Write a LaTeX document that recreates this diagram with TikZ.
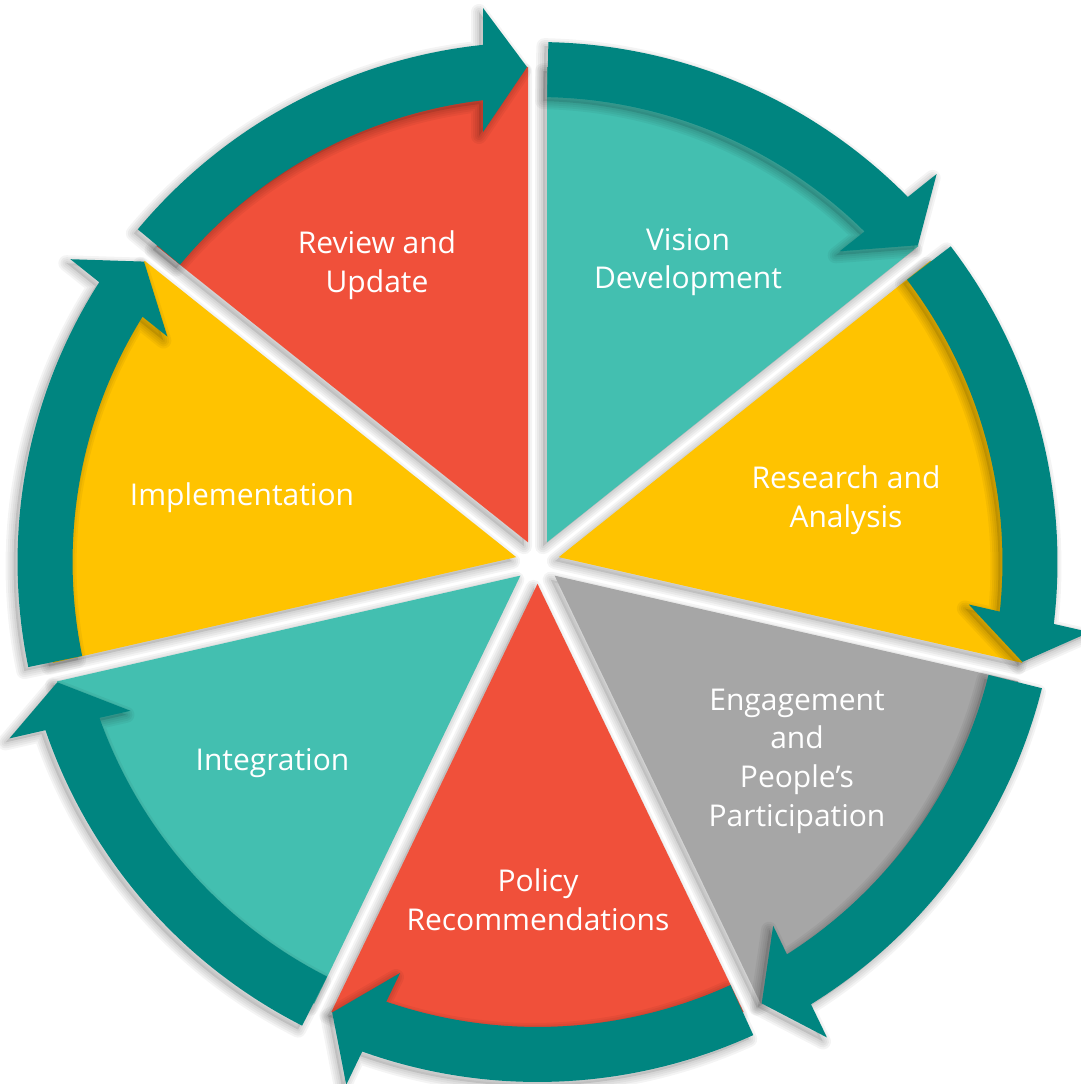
\documentclass[tikz,border=0pt]{standalone}
\usepackage{fontspec}
\setmainfont{Open Sans}
\definecolor{arrowc}{RGB}{0,133,128}
\definecolor{tealc}{RGB}{67,191,176}
\definecolor{yellowc}{RGB}{255,195,0}
\definecolor{redc}{RGB}{240,80,58}
\definecolor{grayc}{RGB}{166,166,166}
\tikzset{
  lbl/.style={text=white, align=center, inner sep=0pt, font=\fontsize{30}{38.7}\selectfont},
  bandarrow/.style={fill=arrowc},
  shadowfill/.style={fill=black, fill opacity=0.10},
  shadowlayer/.style={draw=black, draw opacity=0.045, line width=#1, line join=round},
}
\newcommand{\slicepath}{(25.714:21.9pt) -- (1.1:495pt) arc[start angle=1.1, end angle=50.329, radius=495pt] -- cycle}
\newcommand{\arrowpath}{(50.23:465pt) arc[start angle=50.23, end angle=6.73, radius=465pt] -- (430pt,54.5pt) -- (495pt,10.5pt) -- (554pt,54.5pt) -- (6.016:520pt) arc[start angle=6.016, end angle=50.23, radius=520pt] -- cycle}
\begin{document}
\begin{tikzpicture}[x=1pt,y=1pt]
\useasboundingbox (0,0) rectangle (1080,1084);
\coordinate (C) at (537.5,522);
% slice shadows
\foreach \a in {38.571, -12.857, -64.286, -115.714, -167.143, -218.571, 90}{
  \begin{scope}[shift={(C)}, xshift=-4pt, yshift=-4pt, rotate=\a]
    \fill[shadowfill] \slicepath;
    \foreach \w in {16pt,12pt,8pt,4pt}{\path[shadowlayer=\w] \slicepath;}
  \end{scope}
}
% slices
\foreach \a/\col in {38.571/tealc, -12.857/yellowc, -64.286/grayc, -115.714/redc, -167.143/tealc, -218.571/yellowc, 90/redc}{
  \begin{scope}[shift={(C)}, rotate=\a]
    \fill[\col] \slicepath;
  \end{scope}
}
% arrow shadows
\foreach \g in {90, 38.571, -12.857, -64.286, -115.714, -167.143, -218.571}{
  \begin{scope}[shift={(C)}, xshift=-4pt, yshift=-4pt, rotate=\g]
    \fill[shadowfill] \arrowpath;
    \foreach \w in {16pt,12pt,8pt,4pt}{\path[shadowlayer=\w] \arrowpath;}
  \end{scope}
}
% arrows
\foreach \g in {90, 38.571, -12.857, -64.286, -115.714, -167.143, -218.571}{
  \begin{scope}[shift={(C)}, rotate=\g]
    \fill[bandarrow] \arrowpath;
  \end{scope}
}
% labels
\node[lbl] (vision) at (688,822) {Vision\\Development};
\node[lbl] (research) at (846,584) {Research and\\Analysis};
\node[lbl] (engage) at (797,323) {Engagement\\and\\People’s\\Participation};
\node[lbl] (policy) at (538,184) {Policy\\Recommendations};
\node[lbl] (integ) at (272.5,321) {Integration};
\node[lbl] (impl) at (242,586) {Implementation};
\node[lbl] (review) at (377,819) {Review and\\Update};
\end{tikzpicture}
\end{document}
